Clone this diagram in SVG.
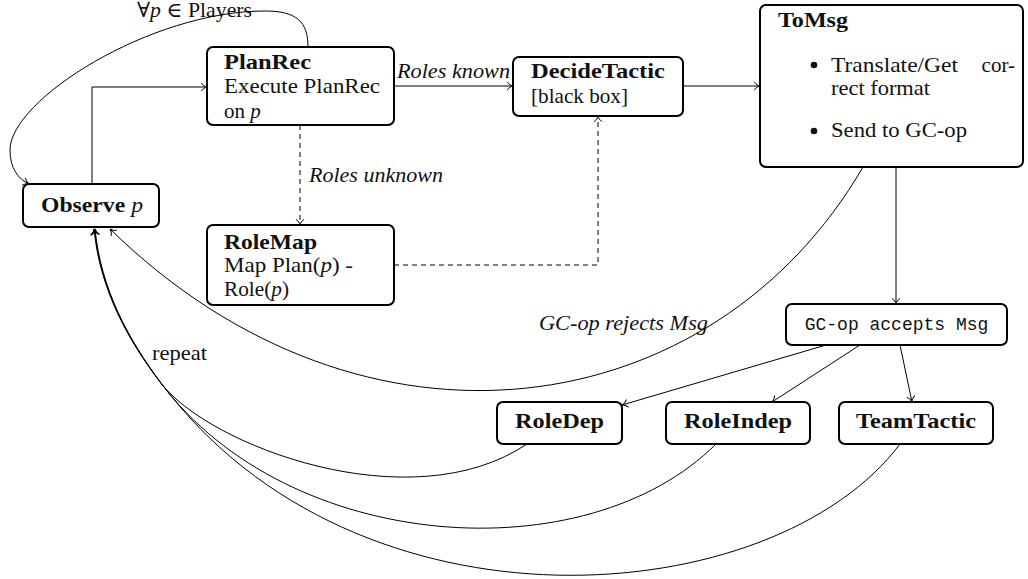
<svg xmlns="http://www.w3.org/2000/svg" width="1028" height="579" viewBox="0 0 1028 579">
  <defs>
    <marker id="arrow" markerUnits="userSpaceOnUse" markerWidth="12" markerHeight="12" viewBox="-7 -6 8 12" refX="0" refY="0" orient="auto" overflow="visible">
      <path d="M-5.5,-3.8 C-4.2,-1.6 -1.8,-0.4 0,0 C-1.8,0.4 -4.2,1.6 -5.5,3.8" fill="none" stroke="#000" stroke-width="1" stroke-linecap="round"/>
    </marker>
  </defs>
  <style>
    .box { fill: #fff; stroke: #000; stroke-width: 2; }
    .t { font-family: "Liberation Serif", "DejaVu Serif", serif; font-size: 21px; fill: #111; }
    .b { font-weight: bold; }
    .i { font-style: italic; }
    .m { font-family: "Liberation Mono", "DejaVu Sans Mono", monospace; font-size: 18px; fill: #111; }
    .edge { fill: none; stroke: #000; stroke-width: 1; }
    .arr { marker-end: url(#arrow); }
    .dash { stroke-dasharray: 5 4; }
  </style>

  <!-- connectors -->
  <g id="connectors">
    <!-- loop over all players -->
    <path class="edge arr" d="M308,47 C308,22 297,11 265,11 C150,11 10,100 10,150 C10,168 18,179 29,184"/>
    <!-- Observe -> PlanRec -->
    <path class="edge arr" d="M92,184 V87 H207"/>
    <!-- PlanRec -> DecideTactic -->
    <path class="edge arr" d="M394,86 H513"/>
    <!-- PlanRec -> RoleMap -->
    <path class="edge arr dash" d="M300,125 V225"/>
    <!-- RoleMap -> DecideTactic -->
    <path class="edge arr dash" d="M394,265 H598 V116"/>
    <!-- DecideTactic -> ToMsg -->
    <path class="edge arr" d="M683,86 H760"/>
    <!-- ToMsg -> GC-op accepts -->
    <path class="edge arr" d="M896,167 V304"/>
    <!-- ToMsg -> Observe (rejected) -->
    <path class="edge arr" d="M863,167 C713,425 365,478 110,229"/>
    <!-- GC-op accepts -> tactic kinds -->
    <path class="edge arr" d="M826,345 L622,405"/>
    <path class="edge arr" d="M860,345 L772,402"/>
    <path class="edge arr" d="M900,345 L912,402"/>
    <!-- repeat: each tactic loops back to Observe, sharing the last stretch -->
    <path class="edge arr" d="M527,444 C411,522 208,446 160,382 C128,340 100,290 94,229"/>
    <path class="edge arr" d="M716,444 C586.5,573.5 289,554 160.5,382.5 C128.5,340 100.5,290 94.5,229"/>
    <path class="edge arr" d="M900,444 C774,612 358,646 161,383 C129,340 101,290 95,229"/>
  </g>

  <!-- edge labels -->
  <g id="labels">
    <text class="t" x="137" y="17" textLength="115" lengthAdjust="spacingAndGlyphs">∀<tspan class="i">p</tspan> ∈ Players</text>
    <text class="t i" x="397" y="78" textLength="113" lengthAdjust="spacingAndGlyphs">Roles known</text>
    <text class="t i" x="309" y="182" textLength="134" lengthAdjust="spacingAndGlyphs">Roles unknown</text>
    <text class="t i" x="539" y="330" textLength="169" lengthAdjust="spacingAndGlyphs">GC-op rejects Msg</text>
    <text class="t" x="152" y="360" textLength="55" lengthAdjust="spacingAndGlyphs">repeat</text>
  </g>

  <g id="observe">
    <rect class="box" x="23" y="184" width="136" height="43" rx="6"/>
    <text class="t" x="41" y="212" textLength="102" lengthAdjust="spacingAndGlyphs"><tspan class="b">Observe</tspan> <tspan class="i">p</tspan></text>
  </g>

  <g id="planrec">
    <rect class="box" x="207" y="47" width="187" height="78" rx="6"/>
    <text class="t b" x="224" y="69" textLength="87" lengthAdjust="spacingAndGlyphs">PlanRec</text>
    <text class="t" x="224" y="93" textLength="156" lengthAdjust="spacingAndGlyphs">Execute PlanRec</text>
    <text class="t" x="224" y="118">on <tspan class="i">p</tspan></text>
  </g>

  <g id="rolemap">
    <rect class="box" x="207" y="225" width="187" height="80" rx="6"/>
    <text class="t b" x="224" y="249" textLength="93" lengthAdjust="spacingAndGlyphs">RoleMap</text>
    <text class="t" x="224" y="272" textLength="129" lengthAdjust="spacingAndGlyphs">Map Plan(<tspan class="i">p</tspan>) -</text>
    <text class="t" x="224" y="296" textLength="65" lengthAdjust="spacingAndGlyphs">Role(<tspan class="i">p</tspan>)</text>
  </g>

  <g id="decidetactic">
    <rect class="box" x="513" y="57" width="170" height="59" rx="6"/>
    <text class="t b" x="531" y="78" textLength="134" lengthAdjust="spacingAndGlyphs">DecideTactic</text>
    <text class="t" x="531" y="103" textLength="97" lengthAdjust="spacingAndGlyphs">[black box]</text>
  </g>

  <g id="tomsg">
    <rect class="box" x="760" y="5" width="263" height="162" rx="6"/>
    <text class="t b" x="778" y="27" textLength="70" lengthAdjust="spacingAndGlyphs">ToMsg</text>
    <circle cx="814" cy="65" r="3.3" fill="#111"/>
    <text class="t" x="831" y="72" textLength="127" lengthAdjust="spacingAndGlyphs">Translate/Get</text>
    <text class="t" x="1015" y="72" text-anchor="end">cor-</text>
    <text class="t" x="831" y="95" textLength="99" lengthAdjust="spacingAndGlyphs">rect format</text>
    <circle cx="814" cy="131" r="3.3" fill="#111"/>
    <text class="t" x="831" y="137" textLength="136" lengthAdjust="spacingAndGlyphs">Send to GC-op</text>
  </g>

  <g id="gcop-accepts">
    <rect class="box" x="786" y="304" width="221" height="41" rx="6"/>
    <text class="m" x="896.5" y="330" text-anchor="middle">GC-op accepts Msg</text>
  </g>

  <g id="roledep">
    <rect class="box" x="497" y="402" width="125" height="42" rx="6"/>
    <text class="t b" x="559.5" y="428" text-anchor="middle" textLength="89" lengthAdjust="spacingAndGlyphs">RoleDep</text>
  </g>

  <g id="roleindep">
    <rect class="box" x="666" y="402" width="144" height="42" rx="6"/>
    <text class="t b" x="738" y="428" text-anchor="middle" textLength="108" lengthAdjust="spacingAndGlyphs">RoleIndep</text>
  </g>

  <g id="teamtactic">
    <rect class="box" x="839" y="402" width="154" height="42" rx="6"/>
    <text class="t b" x="916" y="428" text-anchor="middle" textLength="120" lengthAdjust="spacingAndGlyphs">TeamTactic</text>
  </g>
</svg>
